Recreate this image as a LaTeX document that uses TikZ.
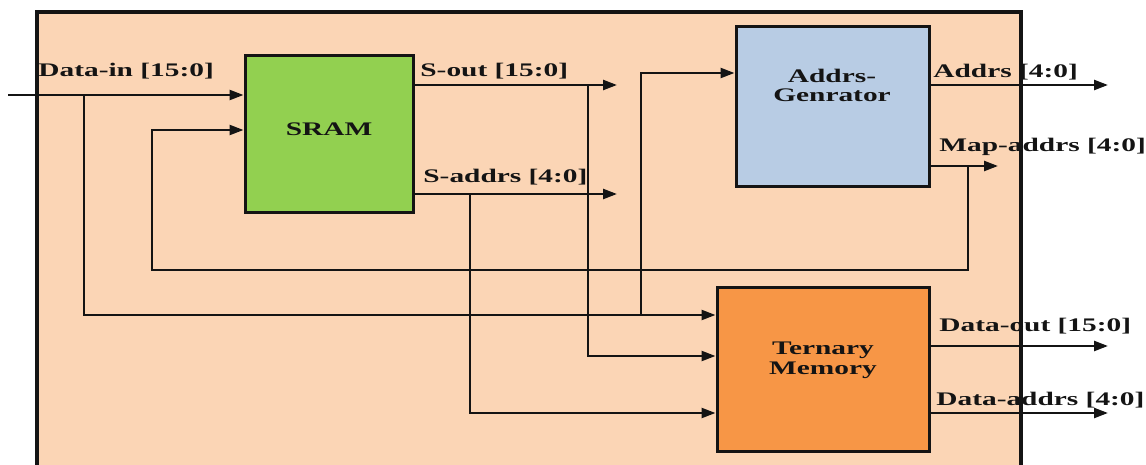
\documentclass[tikz,border=0pt]{standalone}
\usepackage{fontspec}
\setmainfont{Liberation Serif}
\usepackage{graphicx}
\usetikzlibrary{arrows.meta,positioning,calc,fit}
\definecolor{tcampeach}{RGB}{251,213,181}
\definecolor{tcamgreen}{RGB}{146,208,80}
\definecolor{tcamblue}{RGB}{184,204,228}
\definecolor{tcamorange}{RGB}{247,150,70}
\definecolor{tcamdark}{RGB}{20,20,20}
\newcommand{\widetxt}[1]{\scalebox{1.53}[1]{#1}}
\tikzset{
  tcam block/.style={
    draw=tcamdark,
    line width=1.5pt,
    inner sep=0pt,
  },
  tcam text/.style={
    font=\fontsize{9.6}{10}\selectfont\bfseries,
    inner sep=0pt,
    text=tcamdark,
  },
  tcam wire/.style={
    line width=1.2pt,
    draw=tcamdark,
  },
  tcam arrow/.style={
    tcam wire,
    -{Triangle[length=7pt,width=5pt]},
  },
}

\begin{document}
\begin{tikzpicture}[x=0.5pt,y=-0.5pt]
  \clip (0,0) rectangle (1146,465);
  % outer frame
  \fill[tcampeach] (37,12) rectangle (1021,475);
  \draw[tcamdark, line width=1.7pt] (37,475) -- (37,12) -- (1021,12) -- (1021,475);

  % blocks
  \node[tcam block, fill=tcamgreen, fit={(245,56) (413,212)}] (sram) {};
  \node[tcam text] (sramtxt) at ($(sram.center)+(0,-5)$) {\widetxt{SRAM}};
  \node[tcam block, fill=tcamblue, fit={(736,27) (929,186)}] (gen) {};
  \node[tcam text] (gentxt) at (832,88)
    {\widetxt{\begin{tabular}{@{}c@{}}Addrs-\\Genrator\end{tabular}}};
  \node[tcam block, fill=tcamorange, fit={(717,287) (929,451)}] (tm) {};
  \node[tcam text] (tmtxt) at (823,360)
    {\widetxt{\begin{tabular}{@{}c@{}}Ternary\\Memory\end{tabular}}};

  % data in
  \coordinate (din) at (8,95);
  \coordinate (dinsplit) at (84,95);
  \draw[tcam arrow] (din) -- (sram.west |- din);
  \draw[tcam arrow] (dinsplit) |- (tm.west |- 0,315);
  \coordinate (gentap) at (641,315);
  \draw[tcam arrow] (gentap) |- (gen.west |- 0,73);

  % sram outputs
  \coordinate (soutend) at (617,85);
  \draw[tcam arrow] (sram.east |- soutend) -- (soutend);
  \draw[tcam arrow] (588,85) |- (tm.west |- 0,356);
  \coordinate (saddrend) at (617,194);
  \draw[tcam arrow] (sram.east |- saddrend) -- (saddrend);
  \draw[tcam arrow] (470,194) |- (tm.west |- 0,413);

  % generator outputs
  \coordinate (addrend) at (1108,85);
  \draw[tcam arrow] (gen.east |- addrend) -- (addrend);
  \coordinate (mapend) at (998,166);
  \draw[tcam arrow] (gen.east |- mapend) -- (mapend);
  \draw[tcam arrow] (968,166) |- (152,270) |- (sram.west |- 0,130);

  % memory outputs
  \coordinate (doutend) at (1108,346);
  \draw[tcam arrow] (tm.east |- doutend) -- (doutend);
  \coordinate (daddrend) at (1108,413);
  \draw[tcam arrow] (tm.east |- daddrend) -- (daddrend);

  % signal labels
  \node[tcam text, anchor=west] (dinlbl) at (38,71) {\widetxt{Data-in [15:0]}};
  \node[tcam text, anchor=west] (soutlbl) at (420,71) {\widetxt{S-out [15:0]}};
  \node[tcam text, anchor=west] (saddrlbl) at (423,177) {\widetxt{S-addrs [4:0]}};
  \node[tcam text, anchor=west] (addrlbl) at (933,72) {\widetxt{Addrs [4:0]}};
  \node[tcam text, anchor=west] (maplbl) at (939,147) {\widetxt{Map-addrs [4:0]}};
  \node[tcam text, anchor=west] (doutlbl) at (939,326) {\widetxt{Data-out [15:0]}};
  \node[tcam text, anchor=west] (daddrlbl) at (936,400) {\widetxt{Data-addrs [4:0]}};
\end{tikzpicture}
\end{document}
